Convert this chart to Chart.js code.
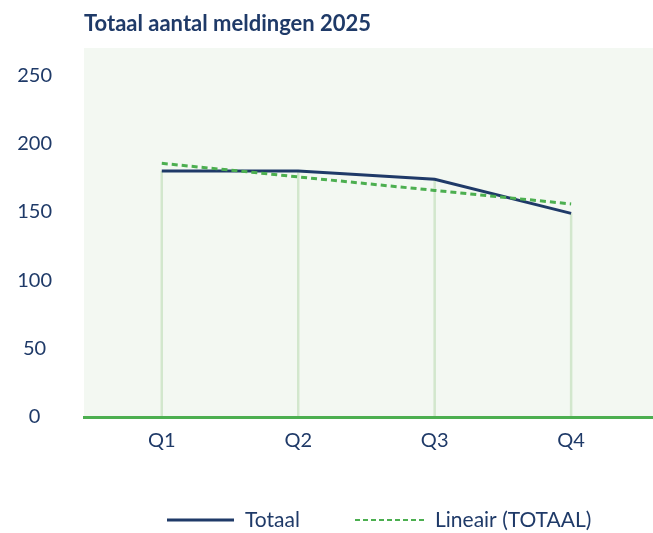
<!DOCTYPE html>
<html>
<head>
<meta charset="utf-8">
<script src="https://cdn.jsdelivr.net/npm/chart.js@4/dist/chart.umd.min.js"></script>
<style>
  html, body { margin: 0; padding: 0; background: #ffffff; }
  #wrap { width: 653px; height: 533px; position: relative; }
</style>
</head>
<body>
<div id="wrap"><canvas id="c" width="653" height="533"></canvas></div>
<script>
const chartTitle = 'Totaal aantal meldingen 2025';
const categories = ['Q1', 'Q2', 'Q3', 'Q4'];
const totaal = [180, 180, 174, 149];
const lineair = [185.6, 175.7, 165.8, 155.9];
const yTicks = [0, 50, 100, 150, 200, 250];
const seriesNames = ['Totaal', 'Lineair (TOTAAL)'];

const NAVY = '#1f3a68';
const GREEN = '#4caf50';
const DROP = '#d2e7cd';
const BG = '#f3f8f2';
const FONT = 'Lato, "Open Sans", sans-serif';

const decor = {
  id: 'decor',
  beforeDraw(chart) {
    const { ctx, chartArea: a } = chart;
    ctx.save();
    ctx.fillStyle = BG;
    ctx.fillRect(a.left, a.top, a.right - a.left, a.bottom - a.top);
    const meta = chart.getDatasetMeta(0);
    ctx.strokeStyle = DROP;
    ctx.lineWidth = 2.5;
    meta.data.forEach(p => {
      ctx.beginPath();
      ctx.moveTo(p.x, p.y);
      ctx.lineTo(p.x, a.bottom);
      ctx.stroke();
    });
    ctx.restore();
  },
  afterDraw(chart) {
    const { ctx, chartArea: a } = chart;
    ctx.save();
    ctx.fillStyle = NAVY;
    ctx.font = 'bold 22px ' + FONT;
    ctx.textBaseline = 'middle';
    ctx.textAlign = 'left';
    ctx.fillText(chartTitle, a.left, 24);
    const ly = 520;
    ctx.lineWidth = 3;
    ctx.strokeStyle = NAVY;
    ctx.beginPath(); ctx.moveTo(167, ly); ctx.lineTo(234, ly); ctx.stroke();
    ctx.strokeStyle = GREEN;
    ctx.lineWidth = 2;
    ctx.setLineDash([5, 3]);
    ctx.beginPath(); ctx.moveTo(355, ly); ctx.lineTo(425, ly); ctx.stroke();
    ctx.setLineDash([]);
    ctx.fillStyle = NAVY;
    ctx.font = '21px ' + FONT;
    ctx.fillText(seriesNames[0], 245, ly);
    ctx.fillText(seriesNames[1], 435, ly);
    ctx.restore();
  }
};

new Chart(document.getElementById('c'), {
  type: 'line',
  data: {
    datasets: [
      {
        label: seriesNames[0],
        data: totaal.map((v, i) => ({ x: i + 1, y: v })),
        borderColor: NAVY,
        borderWidth: 3,
        pointRadius: 0,
        tension: 0,
        order: 1
      },
      {
        label: seriesNames[1],
        data: lineair.map((v, i) => ({ x: i + 1, y: v })),
        borderColor: GREEN,
        borderWidth: 3,
        borderDash: [6, 4],
        pointRadius: 0,
        tension: 0,
        order: 0
      }
    ]
  },
  plugins: [decor],
  options: {
    responsive: false,
    animation: false,
    layout: { padding: { top: 48, right: 0, bottom: 68, left: 0 } },
    plugins: {
      legend: { display: false },
      title: { display: false },
      tooltip: { enabled: false }
    },
    scales: {
      x: {
        type: 'linear',
        min: 0.43,
        max: 4.6,
        afterBuildTicks(s) { s.ticks = categories.map((c, i) => ({ value: i + 1 })); },
        ticks: {
          callback: (v) => categories[v - 1],
          color: NAVY,
          font: { family: FONT, size: 20 },
          padding: 12,
          maxRotation: 0
        },
        grid: { display: false, drawTicks: false },
        border: { display: true, color: GREEN, width: 3 }
      },
      y: {
        min: 0,
        max: 270,
        afterBuildTicks(s) { s.ticks = yTicks.map(v => ({ value: v })); },
        afterFit(s) { s.width = 84; },
        ticks: {
          color: NAVY,
          font: { family: FONT, size: 20 },
          crossAlign: 'center',
          padding: 32
        },
        grid: { display: false, drawTicks: false },
        border: { display: false }
      }
    }
  }
});
</script>
</body>
</html>
